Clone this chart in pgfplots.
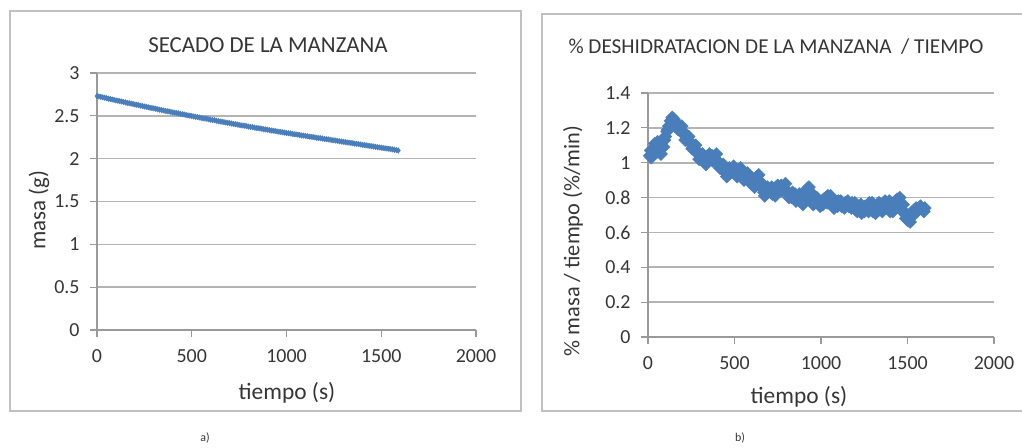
\documentclass[border=0pt]{standalone}
\usepackage{fontspec}
\setmainfont{Carlito}
\usepackage{pgfplots}
\pgfplotsset{compat=1.18}
\definecolor{serie}{HTML}{4A7EBB}
\definecolor{rejilla}{HTML}{B4B4B4}
\definecolor{eje}{HTML}{9A9A9A}
\definecolor{marco}{HTML}{C0C0C0}
\definecolor{texto}{HTML}{363636}

\pgfplotsset{
  excel/.style={
    scale only axis,
    axis x line*=bottom, axis y line*=left,
    axis line style={eje, line width=1.4bp},
    xmin=0, xmax=2000, xtick={0,500,...,2000},
    tick align=outside, major tick length=7bp,
    tick style={eje, line width=1.2bp},
    ymajorgrids, grid style={rejilla, line width=1.6bp},
    /pgf/number format/assume math mode=true,
    /pgf/number format/1000 sep={},
    /pgf/number format/fixed,
    tick label style={font=\fontsize{20}{20}\selectfont, text=texto},
    xticklabel style={yshift=-9bp},
    yticklabel style={xshift=-7bp},
    clip=false,
  }
}

\begin{document}
\begin{tikzpicture}[x=1bp,y=1bp]
\useasboundingbox (0,0) rectangle (1022,448);
% outer frames
\draw[marco, line width=1.5bp] (10,37) rectangle (521,437);
\draw[marco, line width=1.5bp] (1030,37) -- (542,37) -- (542,434) -- (1030,434);

% a) mass versus time
\begin{axis}[excel, at={(97bp,118bp)}, anchor=south west,
  width=379bp, height=257bp,
  ymin=0, ymax=3, ytick={0,0.5,...,3},
  yticklabels={0,0.5,1,1.5,2,2.5,3}]
\addplot[only marks, mark=diamond*, mark size=2.8bp, color=serie] table[row sep=\\]{
t m\\
0 2.730\\ 20 2.721\\ 40 2.712\\ 60 2.700\\ 80 2.691\\ 100 2.680\\
120 2.671\\ 140 2.662\\ 160 2.651\\ 180 2.643\\ 200 2.632\\ 220 2.624\\
240 2.613\\ 260 2.606\\ 280 2.594\\ 300 2.587\\ 320 2.576\\ 340 2.569\\
360 2.558\\ 380 2.551\\ 400 2.540\\ 420 2.533\\ 440 2.523\\ 460 2.516\\
480 2.505\\ 500 2.498\\ 520 2.488\\ 540 2.481\\ 560 2.471\\ 580 2.465\\
600 2.454\\ 620 2.448\\ 640 2.438\\ 660 2.431\\ 680 2.421\\ 700 2.415\\
720 2.405\\ 740 2.399\\ 760 2.389\\ 780 2.384\\ 800 2.374\\ 820 2.368\\
840 2.358\\ 860 2.353\\ 880 2.343\\ 900 2.338\\ 920 2.328\\ 940 2.323\\
960 2.314\\ 980 2.308\\ 1000 2.299\\ 1020 2.294\\ 1040 2.285\\ 1060 2.280\\
1080 2.271\\ 1100 2.266\\ 1120 2.257\\ 1140 2.252\\ 1160 2.243\\ 1180 2.238\\
1200 2.230\\ 1220 2.225\\ 1240 2.216\\ 1260 2.211\\ 1280 2.202\\ 1300 2.197\\
1320 2.189\\ 1340 2.184\\ 1360 2.175\\ 1380 2.170\\ 1400 2.161\\ 1420 2.156\\
1440 2.148\\ 1460 2.142\\ 1480 2.134\\ 1500 2.128\\ 1520 2.121\\ 1540 2.115\\
1560 2.108\\ 1580 2.100\\ 1590 2.095\\
10 2.726\\ 30 2.716\\ 50 2.706\\ 70 2.696\\ 90 2.686\\ 110 2.676\\
130 2.667\\ 150 2.657\\ 170 2.647\\ 190 2.638\\ 210 2.628\\ 230 2.619\\
250 2.609\\ 270 2.600\\ 290 2.591\\ 310 2.582\\ 330 2.572\\ 350 2.563\\
370 2.554\\ 390 2.545\\ 410 2.537\\ 430 2.528\\ 450 2.519\\ 470 2.510\\
490 2.502\\ 510 2.493\\ 530 2.485\\ 550 2.476\\ 570 2.468\\ 590 2.459\\
610 2.451\\ 630 2.443\\ 650 2.434\\ 670 2.426\\ 690 2.418\\ 710 2.410\\
730 2.402\\ 750 2.394\\ 770 2.386\\ 790 2.379\\ 810 2.371\\ 830 2.363\\
850 2.356\\ 870 2.348\\ 890 2.341\\ 910 2.333\\ 930 2.326\\ 950 2.318\\
970 2.311\\ 990 2.304\\ 1010 2.297\\ 1030 2.290\\ 1050 2.283\\ 1070 2.276\\
1090 2.269\\ 1110 2.262\\ 1130 2.255\\ 1150 2.248\\ 1170 2.241\\ 1190 2.234\\
1210 2.228\\ 1230 2.221\\ 1250 2.214\\ 1270 2.207\\ 1290 2.200\\ 1310 2.193\\
1330 2.187\\ 1350 2.180\\ 1370 2.173\\ 1390 2.166\\ 1410 2.159\\ 1430 2.152\\
1450 2.145\\ 1470 2.138\\ 1490 2.131\\ 1510 2.124\\ 1530 2.118\\ 1550 2.111\\
1570 2.104\\
};
\end{axis}
\node[font=\fontsize{23}{23}\selectfont, text=texto] at (268,403) {SECADO DE LA MANZANA};
\node[font=\fontsize{23.5}{23.5}\selectfont, text=texto] at (287,55) {tiempo (s)};
\node[font=\fontsize{23}{23}\selectfont, text=texto, rotate=90] at (39,238) {masa (g)};
\node[font=\fontsize{12}{12}\selectfont, text=texto] at (205,10) {a)};

% b) dehydration rate versus time
\begin{axis}[excel, at={(648bp,111bp)}, anchor=south west,
  width=346bp, height=244bp,
  ymin=0, ymax=1.4, ytick={0,0.2,...,1.4},
  yticklabels={0,0.2,0.4,0.6,0.8,1,1.2,1.4}]
\addplot[only marks, mark=square*, mark options={rotate=45}, mark size=4.6bp, color=serie] table[row sep=\\]{
t v\\
10 1.04\\ 20 1.03\\ 30 1.08\\ 40 1.11\\ 50 1.06\\ 60 1.10\\ 70 1.08\\
80 1.12\\ 90 1.09\\ 100 1.15\\ 110 1.18\\ 120 1.21\\ 130 1.24\\ 140 1.26\\
150 1.25\\ 160 1.23\\ 170 1.22\\ 180 1.20\\ 190 1.19\\ 200 1.18\\ 210 1.16\\
220 1.15\\ 230 1.13\\ 240 1.12\\ 250 1.11\\ 260 1.09\\ 270 1.08\\ 280 1.06\\
290 1.05\\ 300 1.04\\ 310 1.03\\ 320 1.02\\ 330 1.02\\ 340 1.01\\ 350 1.02\\
360 1.03\\ 370 1.04\\ 380 1.03\\ 390 1.02\\ 400 1.01\\ 410 1.00\\ 420 0.99\\
430 0.97\\ 440 0.95\\ 450 0.94\\ 460 0.96\\ 470 0.97\\ 480 0.96\\ 490 0.95\\
500 0.96\\ 510 0.95\\ 520 0.94\\ 530 0.95\\ 540 0.93\\ 550 0.92\\ 560 0.93\\
570 0.91\\ 580 0.90\\ 590 0.91\\ 600 0.89\\ 610 0.88\\ 620 0.90\\ 630 0.92\\
640 0.93\\ 650 0.89\\ 660 0.85\\ 670 0.83\\ 680 0.84\\ 690 0.86\\ 700 0.85\\
710 0.83\\ 720 0.82\\ 730 0.84\\ 740 0.86\\ 750 0.87\\ 760 0.86\\ 770 0.87\\
780 0.86\\ 790 0.85\\ 800 0.84\\ 810 0.83\\ 820 0.81\\ 830 0.80\\ 840 0.81\\
850 0.82\\ 860 0.80\\ 870 0.79\\ 880 0.78\\ 890 0.78\\ 900 0.79\\ 910 0.82\\
920 0.85\\ 930 0.86\\ 940 0.83\\ 950 0.79\\ 960 0.77\\ 970 0.78\\ 980 0.77\\
990 0.78\\ 1000 0.77\\ 1010 0.76\\ 1020 0.78\\ 1030 0.80\\ 1040 0.81\\ 1050 0.79\\
1060 0.77\\ 1070 0.75\\ 1080 0.76\\ 1090 0.77\\ 1100 0.78\\ 1110 0.76\\ 1120 0.75\\
1130 0.76\\ 1140 0.77\\ 1150 0.76\\ 1160 0.75\\ 1170 0.76\\ 1180 0.77\\ 1190 0.75\\
1200 0.73\\ 1210 0.72\\ 1220 0.74\\ 1230 0.76\\ 1240 0.73\\ 1250 0.72\\ 1260 0.73\\
1270 0.75\\ 1280 0.77\\ 1290 0.74\\ 1300 0.72\\ 1310 0.73\\ 1320 0.75\\ 1330 0.74\\
1340 0.73\\ 1350 0.75\\ 1360 0.77\\ 1370 0.78\\ 1380 0.76\\ 1390 0.74\\ 1400 0.72\\
1410 0.74\\ 1420 0.76\\ 1430 0.78\\ 1440 0.79\\ 1450 0.77\\ 1460 0.75\\ 1470 0.73\\
1480 0.71\\ 1490 0.68\\ 1500 0.67\\ 1510 0.69\\ 1520 0.71\\ 1530 0.72\\ 1540 0.73\\
1550 0.74\\ 1560 0.73\\ 1570 0.74\\ 1580 0.74\\ 1590 0.73\\ 1600 0.74\\
15 1.07\\ 35 1.05\\ 55 1.12\\ 75 1.05\\ 95 1.13\\ 115 1.19\\ 135 1.22\\
155 1.21\\ 175 1.19\\ 195 1.21\\ 215 1.13\\ 235 1.15\\ 255 1.08\\ 275 1.10\\
295 1.02\\ 315 1.05\\ 335 0.99\\ 355 1.05\\ 375 1.01\\ 395 1.05\\ 415 0.97\\
435 0.99\\ 455 0.92\\ 475 0.94\\ 495 0.98\\ 515 0.92\\ 535 0.97\\ 555 0.90\\
575 0.94\\ 595 0.88\\ 615 0.86\\ 635 0.89\\ 655 0.86\\ 675 0.81\\ 695 0.83\\
715 0.86\\ 735 0.81\\ 755 0.84\\ 775 0.84\\ 795 0.88\\ 815 0.80\\ 835 0.83\\
855 0.78\\ 875 0.82\\ 895 0.76\\ 915 0.79\\ 935 0.83\\ 955 0.76\\ 975 0.80\\
995 0.75\\ 1015 0.79\\ 1035 0.77\\ 1055 0.81\\ 1075 0.74\\ 1095 0.75\\ 1115 0.78\\
1135 0.74\\ 1155 0.78\\ 1175 0.74\\ 1195 0.77\\ 1215 0.75\\ 1235 0.71\\ 1255 0.75\\
1275 0.72\\ 1295 0.77\\ 1315 0.71\\ 1335 0.77\\ 1355 0.72\\ 1375 0.75\\ 1395 0.78\\
1415 0.72\\ 1435 0.75\\ 1455 0.80\\ 1475 0.76\\ 1495 0.70\\ 1515 0.66\\ 1535 0.70\\
1555 0.72\\ 1575 0.75\\ 1595 0.72\\
};
\end{axis}
\node[font=\fontsize{21.3}{21.3}\selectfont, text=texto, anchor=west] at (565,401) {\% DESHIDRATACION DE LA MANZANA~~/ TIEMPO};
\node[font=\fontsize{23.5}{23.5}\selectfont, text=texto] at (799,51) {tiempo (s)};
\node[font=\fontsize{22.4}{22.4}\selectfont, text=texto, rotate=90] at (573,207) {\% masa / tiempo (\%/min)};
\node[font=\fontsize{12}{12}\selectfont, text=texto] at (740,10) {b)};
\end{tikzpicture}
\end{document}
